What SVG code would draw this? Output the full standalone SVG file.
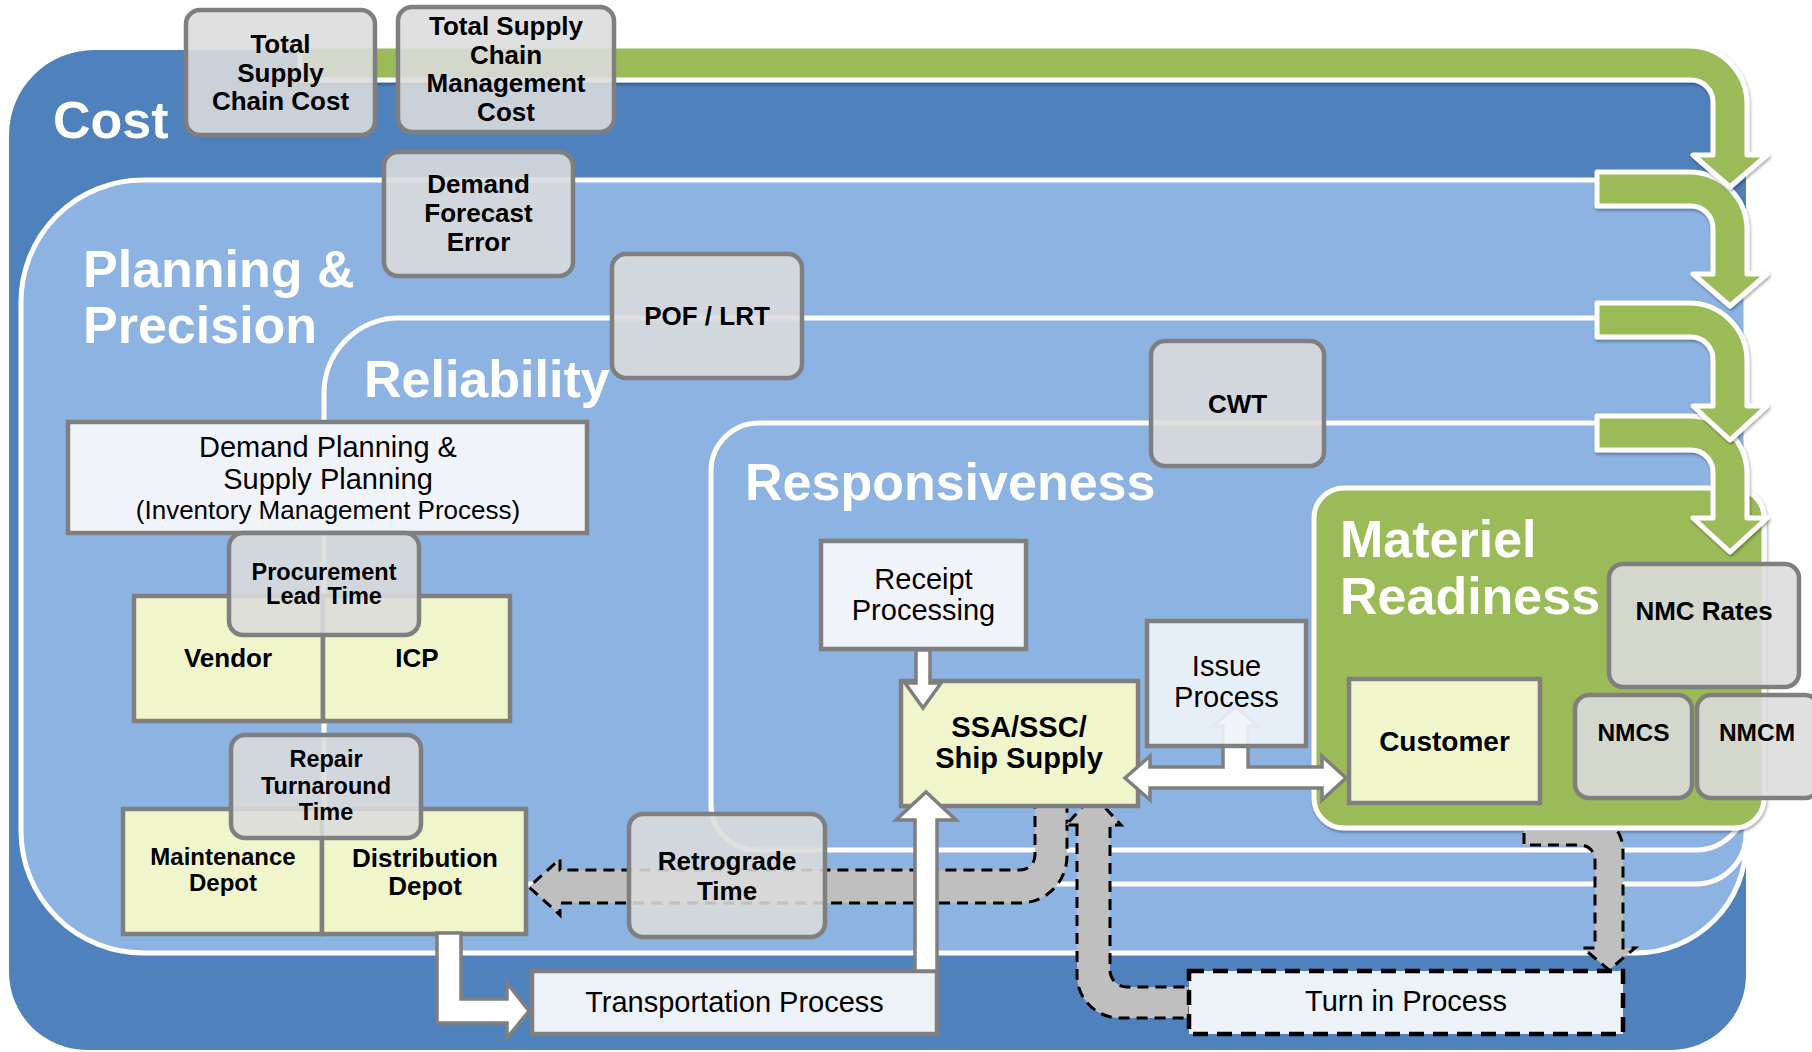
<svg xmlns="http://www.w3.org/2000/svg" width="1812" height="1052" viewBox="0 0 1812 1052">
<defs>
<style>
text { font-family: "Liberation Sans", Arial, Helvetica, sans-serif; fill: #000; }
.title { font-size: 52px; font-weight: bold; fill: #FFFFFF; }
.lbl { font-weight: bold; text-anchor: middle; font-size: 26px; }
.sm { font-size: 23.5px; }
.reg { font-weight: normal; text-anchor: middle; font-size: 29px; }
.gbox { fill: #DCDCDC; fill-opacity: 0.88; stroke: #7F7F7F; stroke-width: 4.5; }
.ybox { fill: #F1F5CB; stroke: #7F7F7F; stroke-width: 4.5; }
.wbox { fill: #F0F4FA; stroke: #7F7F7F; stroke-width: 4.5; }
.pbox { fill: #EDF2F9; stroke: #7F7F7F; stroke-width: 4.5; }
.layer { fill: #8DB3E2; stroke: #FFFFFF; stroke-width: 5; }
.garrow { fill: #9BBB59; stroke: #FFFFFF; stroke-width: 5; stroke-linejoin: round; filter: url(#sh); }
.warrow { fill: #FFFFFF; stroke: #7F7F7F; stroke-width: 3.5; }
.darrow { fill: #BFBFBF; stroke: #000000; stroke-width: 3; stroke-dasharray: 11 7; }
</style>
<filter id="sh" x="-10%" y="-10%" width="130%" height="130%">
<feDropShadow dx="1" dy="2" stdDeviation="1.5" flood-color="#000000" flood-opacity="0.35"/>
</filter>
<clipPath id="belowSSA"><rect x="0" y="808.5" width="1812" height="300"/></clipPath>
<clipPath id="belowMat"><rect x="0" y="831" width="1812" height="300"/></clipPath>
</defs>

<rect x="0" y="0" width="1812" height="1052" fill="#FFFFFF"/>

<g id="layers">
<g id="layer-cost">
<path d="M94,50 H1686 A60,60 0 0 1 1746,110 V975 A75,75 0 0 1 1671,1050 H87 A78,78 0 0 1 9,972 V135 A85,85 0 0 1 94,50 Z" fill="#4F81BD"/>
<text class="title" x="53" y="138">Cost</text>
</g>
<g id="layer-planning">
<path class="layer" d="M143,180 H1686 A60,60 0 0 1 1746,240 V843 A110,110 0 0 1 1636,953 H143 A122,122 0 0 1 21,831 V302 A122,122 0 0 1 143,180 Z"/>
<text class="title" x="83" y="287">Planning &amp;</text>
<text class="title" x="83" y="343">Precision</text>
</g>
<g id="layer-reliability">
<path class="layer" d="M399,318 H1686 A60,60 0 0 1 1746,378 V834 A50,50 0 0 1 1696,884 H414 A90,90 0 0 1 324,794 V393 A75,75 0 0 1 399,318 Z"/>
<text class="title" x="364" y="397">Reliability</text>
</g>
<g id="layer-responsiveness">
<path class="layer" d="M759,423 H1696 A50,50 0 0 1 1746,473 V800 A50,50 0 0 1 1696,850 H756 A45,45 0 0 1 711,805 V471 A48,48 0 0 1 759,423 Z"/>
<text class="title" x="745" y="500">Responsiveness</text>
</g>
<g id="layer-materiel">
<rect x="1314" y="488" width="450" height="340" rx="30" ry="30" fill="#9BBB59" stroke="#FFFFFF" stroke-width="5" filter="url(#sh)"/>
<text class="title" x="1340" y="557">Materiel</text>
<text class="title" x="1340" y="614">Readiness</text>
</g>
</g>

<g id="layer-arrows">
<path class="garrow" d="M1597,416 H1689 A58,58 0 0 1 1747,474 V518 H1767 L1730,552 L1693,518 H1713 V472 A22,22 0 0 0 1691,450 H1597 Z"/>
<path class="garrow" d="M1597,303 H1689 A58,58 0 0 1 1747,361 V406 H1767 L1730,440 L1693,406 H1713 V359 A22,22 0 0 0 1691,337 H1597 Z"/>
<path class="garrow" d="M1597,172 H1689 A58,58 0 0 1 1747,230 V274 H1767 L1730,306 L1693,274 H1713 V228 A22,22 0 0 0 1691,206 H1597 Z"/>
<path class="garrow" d="M300,46 H1689 A58,58 0 0 1 1747,104 V155 H1767 L1730,187 L1693,155 H1713 V102 A22,22 0 0 0 1691,80 H300 Z"/>
</g>

<g id="node-tscc">
<rect class="gbox" x="186" y="10" width="189" height="125" rx="14"/>
<text class="lbl" x="280.5" y="53">Total</text>
<text class="lbl" x="280.5" y="82">Supply</text>
<text class="lbl" x="280.5" y="110">Chain Cost</text>
</g>
<g id="node-tscmc">
<rect class="gbox" x="398" y="7" width="216" height="125" rx="14"/>
<text class="lbl" x="506" y="35">Total Supply</text>
<text class="lbl" x="506" y="63.5">Chain</text>
<text class="lbl" x="506" y="92">Management</text>
<text class="lbl" x="506" y="121">Cost</text>
</g>
<g id="node-dfe">
<rect class="gbox" x="384" y="152" width="189" height="124" rx="14"/>
<text class="lbl" x="478.5" y="193">Demand</text>
<text class="lbl" x="478.5" y="222">Forecast</text>
<text class="lbl" x="478.5" y="251">Error</text>
</g>
<g id="node-pof">
<rect class="gbox" x="612" y="254" width="190" height="124" rx="14"/>
<text class="lbl" x="707" y="325">POF / LRT</text>
</g>
<g id="node-cwt">
<rect class="gbox" x="1151" y="341" width="173" height="125" rx="14"/>
<text class="lbl" x="1237.5" y="413">CWT</text>
</g>
<g id="node-dpsp">
<rect class="wbox" x="68" y="422" width="519" height="111"/>
<text class="reg" x="328" y="457">Demand Planning &amp;</text>
<text class="reg" x="328" y="489">Supply Planning</text>
<text class="reg" x="328" y="519" style="font-size:26px">(Inventory Management Process)</text>
</g>
<g id="node-vendor">
<rect class="ybox" x="134" y="596" width="189" height="125"/>
<text class="lbl" x="228" y="667">Vendor</text>
</g>
<g id="node-icp">
<rect class="ybox" x="323" y="596" width="187" height="125"/>
<text class="lbl" x="417" y="667">ICP</text>
</g>
<g id="node-plt">
<rect class="gbox" x="229" y="533" width="190" height="102" rx="14"/>
<text class="lbl sm" x="324" y="580">Procurement</text>
<text class="lbl sm" x="324" y="604">Lead Time</text>
</g>
<g id="node-maint">
<rect class="ybox" x="123" y="809" width="199" height="125"/>
<text class="lbl" x="223" y="865" style="font-size:24px">Maintenance</text>
<text class="lbl" x="223" y="891" style="font-size:24px">Depot</text>
</g>
<g id="node-dist">
<rect class="ybox" x="322" y="809" width="204" height="125"/>
<text class="lbl" x="425" y="867">Distribution</text>
<text class="lbl" x="425" y="895">Depot</text>
</g>
<g id="node-rtat">
<rect class="gbox" x="231" y="735" width="190" height="103" rx="14"/>
<text class="lbl sm" x="326" y="767">Repair</text>
<text class="lbl sm" x="326" y="794">Turnaround</text>
<text class="lbl sm" x="326" y="820">Time</text>
</g>
<g id="node-receipt">
<rect class="wbox" x="821" y="541" width="205" height="108"/>
<text class="reg" x="923.5" y="589">Receipt</text>
<text class="reg" x="923.5" y="620">Processing</text>
</g>
<g id="node-ssa">
<rect class="ybox" x="901" y="681" width="237" height="125"/>
<text class="lbl" x="1019" y="737" style="font-size:29px">SSA/SSC/</text>
<text class="lbl" x="1019" y="768" style="font-size:29px">Ship Supply</text>
</g>
<g id="node-transport">
<rect class="pbox" x="532" y="971" width="405" height="63"/>
<text class="reg" x="734.5" y="1012">Transportation Process</text>
</g>
<g id="node-customer">
<rect class="ybox" x="1349" y="679" width="191" height="124"/>
<text class="lbl" x="1444.5" y="751" style="font-size:28px">Customer</text>
</g>
<g id="node-nmcrates">
<rect class="gbox" x="1609" y="564" width="190" height="123" rx="14"/>
<text class="lbl" x="1704" y="620">NMC Rates</text>
</g>
<g id="node-nmcs">
<rect class="gbox" x="1575" y="695" width="117" height="103" rx="14"/>
<text class="lbl" x="1633.5" y="741" style="font-size:24.5px">NMCS</text>
</g>
<g id="node-nmcm">
<rect class="gbox" x="1697" y="695" width="122" height="103" rx="14"/>
<text class="lbl" x="1757" y="741" style="font-size:24.5px">NMCM</text>
</g>

<g id="connectors">
<path class="darrow" clip-path="url(#belowMat)" d="M1524,815 V845 H1580 A15,15 0 0 1 1595,860 V948 H1583 L1609,970 L1635,948 H1623 V850 A35,35 0 0 0 1588,815 Z"/>
<path class="darrow" clip-path="url(#belowSSA)" d="M1035,798 V855 A15,15 0 0 1 1020,870 H560 V859 L529,887 L560,915 V903 H1020 A47,47 0 0 0 1067,856 V798 Z"/>
<path class="darrow" clip-path="url(#belowSSA)" d="M1077,825 V975 A43,43 0 0 0 1120,1018 H1190 V987 H1127 A17,17 0 0 1 1110,970 V825 H1121 L1093.5,795 L1066,825 Z"/>
<polygon class="warrow" points="916,650 930,650 930,683 941,683 923,708 905,683 916,683"/>
<polygon class="warrow" points="915,971 915,820 896,820 926,792 956,820 937,820 937,971"/>
<polygon class="warrow" points="437,933 437,1023 507,1023 507,1038 529,1011 507,983 507,999 461,999 461,933"/>
<polygon class="warrow" points="1125,778 1150,756 1150,767 1223,767 1223,726 1213,726 1235.5,707 1258,726 1248,726 1248,767 1322,767 1322,756 1346,778 1322,800 1322,788 1150,788 1150,800"/>
</g>

<g id="node-retro">
<rect class="gbox" x="629" y="814" width="196" height="123" rx="14"/>
<text class="lbl" x="727" y="870">Retrograde</text>
<text class="lbl" x="727" y="900">Time</text>
</g>
<g id="node-issue">
<rect class="wbox" x="1147" y="621" width="159" height="125" fill-opacity="0.9"/>
<text class="reg" x="1226.5" y="676">Issue</text>
<text class="reg" x="1226.5" y="707">Process</text>
</g>
<g id="node-turnin">
<rect x="1189" y="971" width="434" height="63" fill="#EDF2F9" stroke="#000000" stroke-width="4.5" stroke-dasharray="15 9"/>
<text class="reg" x="1406" y="1011">Turn in Process</text>
</g>
</svg>
